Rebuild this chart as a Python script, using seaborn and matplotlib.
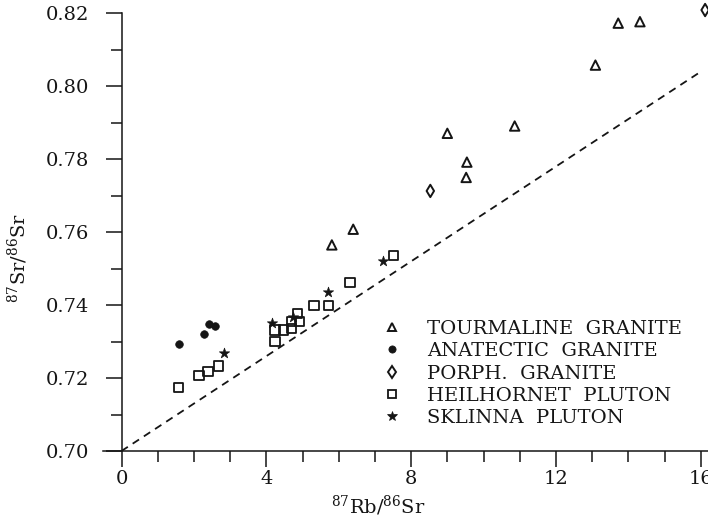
import numpy as np
import pandas as pd
import matplotlib
matplotlib.use("Agg")
import matplotlib.pyplot as plt
from matplotlib.ticker import MultipleLocator, FormatStrFormatter
from matplotlib.lines import Line2D
import seaborn as sns

# --- data: 87Rb/86Sr vs 87Sr/86Sr -------------------------------------------
tourmaline_x = [5.81, 6.40, 9.00, 9.54, 9.52, 10.86, 13.09, 13.72, 14.32]
tourmaline_y = [0.7565, 0.7608, 0.7871, 0.7792, 0.7750, 0.7891, 0.8058, 0.8173, 0.8177]

anatectic_x = [1.59, 2.29, 2.43, 2.57]
anatectic_y = [0.7293, 0.7320, 0.7349, 0.7342]

porph_x = [8.53, 16.12]
porph_y = [0.7713, 0.8209]

heilhornet_x = [1.58, 2.14, 2.39, 2.67, 4.24, 4.24, 4.47, 4.70, 4.70, 4.91,
                4.87, 5.32, 5.71, 6.31, 7.51]
heilhornet_y = [0.7175, 0.7208, 0.7219, 0.7233, 0.7300, 0.7332, 0.7332, 0.7336,
                0.7355, 0.7355, 0.7378, 0.7398, 0.7398, 0.7463, 0.7535]

sklinna_x = [2.83, 4.15, 4.73, 5.71, 7.23]
sklinna_y = [0.7268, 0.7350, 0.7367, 0.7437, 0.7521]

# reference line
ref_x = [0.0, 16.0]
ref_y = [0.700, 0.804]

group_labels = ["TOURMALINE  GRANITE", "ANATECTIC  GRANITE", "PORPH.  GRANITE",
                "HEILHORNET  PLUTON", "SKLINNA  PLUTON"]

x_ticks = [0, 4, 8, 12, 16]
y_ticks = [0.70, 0.72, 0.74, 0.76, 0.78, 0.80, 0.82]

# --- styling ---------------------------------------------------------------
sns.set_theme(style="white")
plt.rcParams["font.family"] = ["DejaVu Serif"]
plt.rcParams["mathtext.fontset"] = "dejavuserif"

INK = "#151515"
styles = [
    dict(marker="^", s=46, fc="none", lw=1.4),
    dict(marker="o", s=30, fc=INK, lw=0.5),
    dict(marker="d", s=40, fc="none", lw=1.4),
    dict(marker="s", s=44, fc="none", lw=1.3),
    dict(marker="*", s=60, fc=INK, lw=0.5),
]
series = [(tourmaline_x, tourmaline_y), (anatectic_x, anatectic_y),
          (porph_x, porph_y), (heilhornet_x, heilhornet_y),
          (sklinna_x, sklinna_y)]

W, H = 708, 525
fig = plt.figure(figsize=(W / 100, H / 100), dpi=100)
ax = fig.add_axes([103.4 / W, (H - 451) / H, (W - 103.4) / W, 451 / H])

sns.lineplot(x=ref_x, y=ref_y, ax=ax, color=INK, lw=1.3,
             linestyle=(0, (4.2, 3.2)), zorder=1)

for (xs, ys), st, lab in zip(series, styles, group_labels):
    df = pd.DataFrame({"x": xs, "y": ys})
    sns.scatterplot(data=df, x="x", y="y", ax=ax, marker=st["marker"],
                    s=st["s"], facecolor=st["fc"], edgecolor=INK,
                    linewidth=st["lw"], zorder=3, clip_on=False)

ax.set_xlim(-0.5, 16.2)
ax.set_ylim(0.70, 0.82365)

# axes frame: left spine at x = 0, bottom spine across
for side in ("top", "right"):
    ax.spines[side].set_visible(False)
ax.spines["left"].set_position(("data", 0))
ax.spines["left"].set_bounds(0.70, 0.82)
for side in ("left", "bottom"):
    ax.spines[side].set_color(INK)
    ax.spines[side].set_linewidth(1.1)

ax.xaxis.set_major_locator(MultipleLocator(4))
ax.xaxis.set_minor_locator(MultipleLocator(1))
ax.yaxis.set_major_locator(MultipleLocator(0.02))
ax.yaxis.set_minor_locator(MultipleLocator(0.01))
ax.yaxis.set_major_formatter(FormatStrFormatter("%.2f"))
ax.set_xticks(x_ticks)
ax.set_yticks(y_ticks)

ax.tick_params(axis="both", which="both", direction="out", color=INK,
               width=1.1, labelsize=14, labelcolor=INK)
ax.tick_params(axis="both", which="major", length=11.5)
ax.tick_params(axis="both", which="minor", length=7.8)
ax.tick_params(axis="y", which="both", left=True, pad=12)
ax.tick_params(axis="x", which="both", bottom=True, pad=2.5)
ax.grid(False)

ax.set_xlabel(r"$^{87}$Rb/$^{86}$Sr", fontsize=14, color=INK)
ax.set_ylabel(r"$^{87}$Sr/$^{86}$Sr", fontsize=14, color=INK, va="center")
ax.xaxis.set_label_coords((378 - 103.4) / (W - 103.4), (451 - 494) / 451)
ax.yaxis.set_label_coords((18 - 103.4) / (W - 103.4), (451 - 258) / 451)

# legend
handles = [Line2D([], [], linestyle="none", marker=st["marker"],
                  markersize=np.sqrt(st["s"]) * 0.95,
                  markerfacecolor=st["fc"], markeredgecolor=INK,
                  markeredgewidth=st["lw"])
           for st in styles]
leg = ax.legend(handles, group_labels, loc="upper left",
                bbox_to_anchor=(382.3 / W, 1 - 320 / H),
                bbox_transform=fig.transFigure, frameon=False,
                fontsize=14, handlelength=1.0, handletextpad=1.3,
                borderpad=0, borderaxespad=0, labelspacing=0.22)
for t in leg.get_texts():
    t.set_color(INK)

fig.savefig("out.png", dpi=100, facecolor="white")
